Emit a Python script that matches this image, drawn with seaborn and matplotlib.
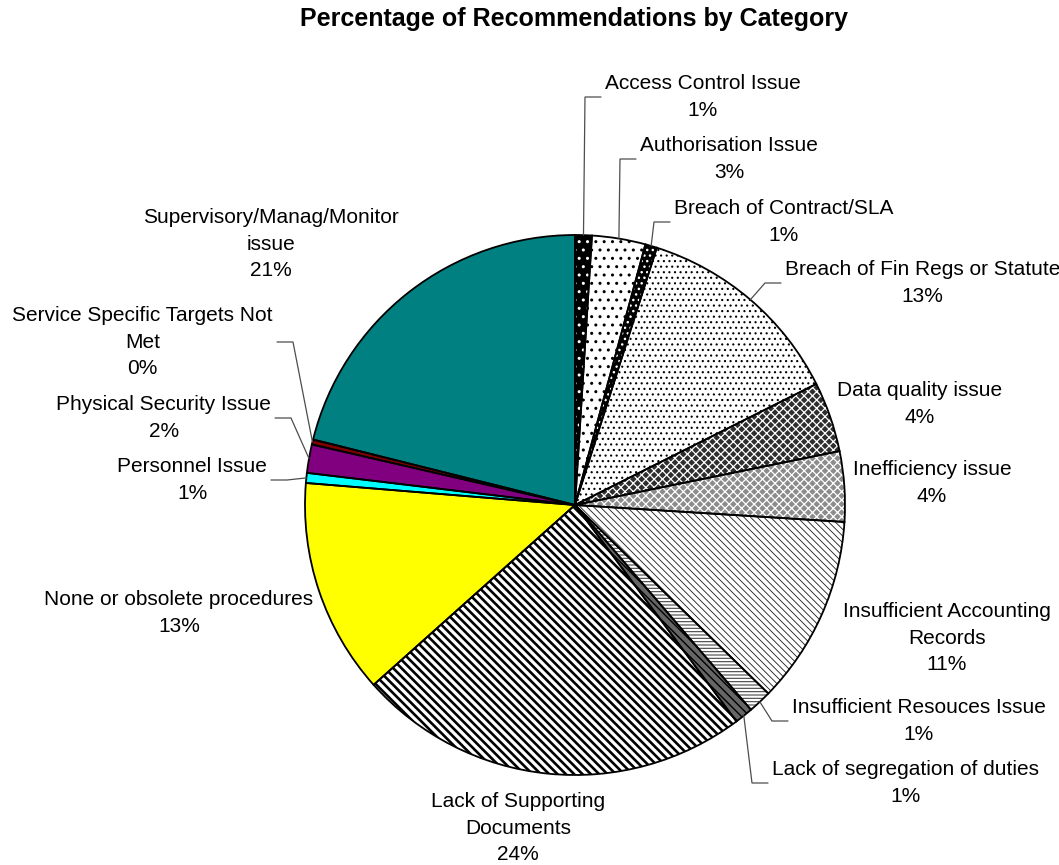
import math

import matplotlib
matplotlib.use("Agg")
import matplotlib.pyplot as plt
import seaborn as sns

# ---- data -------------------------------------------------------------
categories = [
    "Access Control Issue",
    "Authorisation Issue",
    "Breach of Contract/SLA",
    "Breach of Fin Regs or Statute",
    "Data quality issue",
    "Inefficiency issue",
    "Insufficient Accounting\nRecords",
    "Insufficient Resouces Issue",
    "Lack of segregation of duties",
    "Lack of Supporting\nDocuments",
    "None or obsolete procedures",
    "Personnel Issue",
    "Physical Security Issue",
    "Service Specific Targets Not\nMet",
    "Supervisory/Manag/Monitor\nissue",
]
shares = [1.0, 3.2, 0.7, 12.7, 4.2, 4.2, 11.3, 1.4, 1.1, 23.6, 12.9, 0.6, 1.7, 0.3, 21.1]
title = "Percentage of Recommendations by Category"

# ---- styling ----------------------------------------------------------
# (face colour, hatch pattern, hatch colour, hatch line width)
slice_styles = [
    ("#000000", "..", "#ffffff", 1.0),
    ("#ffffff", "..", "#000000", 1.0),
    ("#000000", "...", "#ffffff", 1.0),
    ("#ffffff", "...", "#000000", 0.8),
    ("#2e2e2e", "xxxx", "#ffffff", 0.9),
    ("#8c8c8c", "xxxx", "#ffffff", 0.9),
    ("#ffffff", "\\\\\\\\\\", "#1a1a1a", 0.6),
    ("#ffffff", "-----", "#444444", 0.8),
    ("#666666", "\\\\\\\\", "#000000", 1.0),
    ("#ffffff", "\\\\\\\\", "#000000", 1.9),
    ("#ffff00", "", "#ffff00", 1.0),
    ("#00ffff", "", "#00ffff", 1.0),
    ("#800080", "", "#800080", 1.0),
    ("#800000", "", "#800000", 1.0),
    ("#008080", "", "#008080", 1.0),
]

# label anchors in pixel space (x, y from top), alignment, leader line
label_layout = [
    (605, 97, "left", True),
    (640, 159, "left", True),
    (674, 222, "left", True),
    (785, 283, "left", True),
    (920, 404, "center", False),
    (932, 483, "center", False),
    (947, 638, "center", False),
    (792, 721, "left", True),
    (772, 783, "left", True),
    (518, 828, "center", False),
    (179, 613, "center", False),
    (267, 480, "right", True),
    (271, 418, "right", True),
    (273, 342, "right", True),
    (271, 244, "center", False),
]

sns.set_theme(style="white")
plt.rcParams["font.family"] = ["Liberation Sans", "DejaVu Sans"]
plt.rcParams["text.color"] = "black"

W, H = 1059, 865
fig = plt.figure(figsize=(W / 100, H / 100), dpi=100)
fig.patch.set_facecolor("white")
ax = fig.add_axes([0, 0, 1, 1])

cx, cy, R = 575, H - 505, 270

# patterned fills
fills, _ = ax.pie(
    shares, startangle=90, counterclock=False, center=(cx, cy), radius=R,
    colors=[s[0] for s in slice_styles], wedgeprops=dict(linewidth=0),
)
for w, (fc, hatch, hc, hlw) in zip(fills, slice_styles):
    w.set_edgecolor(hc)
    w.set_linewidth(0)
    if hatch:
        w.set_hatch(hatch)
        if hasattr(w, "set_hatch_linewidth"):
            w.set_hatch_linewidth(hlw)

# slice outlines
ax.pie(
    shares, startangle=90, counterclock=False, center=(cx, cy), radius=R,
    colors=["none"] * len(shares),
    wedgeprops=dict(edgecolor="black", linewidth=1.3, fill=False),
)

total = sum(shares)
for w, name, share, (lx, ly, ha, leader) in zip(fills, categories, shares, label_layout):
    y = H - ly
    text = f"{name}\n{share / total * 100:.0f}%"
    ax.text(lx, y, text, ha=ha, va="center", multialignment="center",
            fontsize=15, color="black", linespacing=1.5)
    if leader:
        a = math.radians((w.theta1 + w.theta2) / 2)
        rx, ry = cx + R * math.cos(a), cy + R * math.sin(a)
        sgn = 1 if ha == "left" else -1
        ex = lx - 4 * sgn
        bx = ex - 16 * sgn
        ax.plot([rx, bx, ex], [ry, y, y], color="#4d4d4d", lw=0.9,
                solid_joinstyle="miter")

fig.text(574 / W, 1 - 19 / H, title, ha="center", va="center",
         fontsize=18, fontweight="bold", color="black")

ax.set_xlim(0, W)
ax.set_ylim(0, H)
ax.set_aspect("equal")
ax.axis("off")

fig.savefig("out.png", dpi=100, facecolor="white")
